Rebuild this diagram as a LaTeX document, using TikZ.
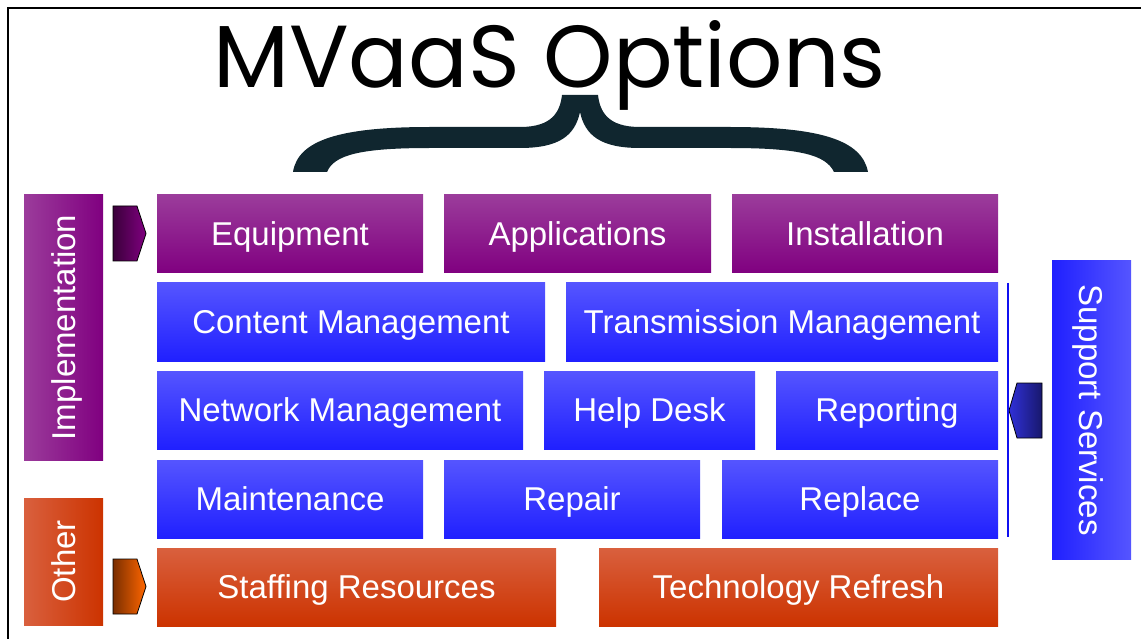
\documentclass[tikz,border=0pt]{standalone}
\usepackage{fontspec}
\usepackage{graphicx}
\setmainfont{Liberation Sans}
\newfontfamily\titlefont{Poppins}
\definecolor{purT}{HTML}{9B3C9B}
\definecolor{purB}{HTML}{800080}
\definecolor{bluT}{HTML}{5555FF}
\definecolor{bluB}{HTML}{2020FF}
\definecolor{orT}{HTML}{D9603E}
\definecolor{orB}{HTML}{CC3300}
\definecolor{braceC}{HTML}{10262F}
\definecolor{arPurL}{HTML}{3A003A}
\definecolor{arOrL}{HTML}{7A2E00}
\definecolor{arOrR}{HTML}{FF6600}
\definecolor{arBluL}{HTML}{3030D8}
\definecolor{arBluR}{HTML}{18186C}
\definecolor{lineBlu}{HTML}{1010F0}
\tikzset{
  lbl/.style={font=\fontsize{33}{36}\selectfont, text=white, inner sep=0pt,
    text height=23.6pt, text depth=0pt, anchor=center, minimum height=78pt},
  purbox/.style={lbl, top color=purT, bottom color=purB},
  blubox/.style={lbl, top color=bluT, bottom color=bluB},
  orbox/.style={lbl, top color=orT, bottom color=orB},
  sidebox/.style={lbl, minimum height=79pt},
  arrowshape/.style={draw=black, line width=0.8pt, line join=miter},
}
\begin{document}
\begin{tikzpicture}[x=1pt,y=-1pt]
\useasboundingbox (0,0) rectangle (1141,639);
% frame
\draw[line width=2.6pt, black] (1145,8) -- (8,8) -- (8,645);
% title
\node[anchor=base west, inner sep=0pt] (title) at (213,88)
  {\resizebox{672pt}{67pt}{\titlefont MVaaS Options}};
% brace
\fill[braceC] (293,172) .. controls (298,140) and (340,127) .. (430,127)
  -- (520,127) .. controls (552,127) and (560,112) .. (562,95)
  -- (598,95) .. controls (600,112) and (608,127) .. (640,127)
  -- (730,127) .. controls (820,127) and (862,140) .. (868,172)
  -- (834,172) .. controls (826,155) and (800,148) .. (730,148)
  -- (640,148) .. controls (600,148) and (585,135) .. (580,112)
  .. controls (575,135) and (560,148) .. (520,148)
  -- (430,148) .. controls (360,148) and (334,155) .. (327,172) -- cycle;
% row 1
\node[purbox, minimum width=266pt] (equip) at (290,234) {Equipment};
\node[purbox, minimum width=267pt] (apps) at (577.5,234) {Applications};
\node[purbox, minimum width=266pt] (inst) at (865,234) {Installation};
% row 2
\node[blubox, minimum width=388pt] (content) at (351,322) {Content Management};
\node[blubox, minimum width=432pt] (trans) at (782,322) {Transmission Management};
% row 3
\node[blubox, minimum width=366pt] (netw) at (340,410) {Network Management};
\node[blubox, minimum width=211pt] (help) at (649.5,410) {Help Desk};
\node[blubox, minimum width=222pt] (report) at (887,410) {Reporting};
% row 4
\node[blubox, minimum width=266pt] (maint) at (290,499) {Maintenance};
\node[blubox, minimum width=256pt] (repair) at (572,499) {Repair};
\node[blubox, minimum width=276pt] (replace) at (860,499) {Replace};
% row 5
\node[orbox, minimum width=399pt] (staff) at (356.5,587) {Staffing Resources};
\node[orbox, minimum width=399pt] (tech) at (798.5,587) {Technology Refresh};
% side labels
\node[sidebox, rotate=90, minimum width=265pt, left color=purT, right color=purB]
  (impl) at (63.5,327.5) {Implementation};
\node[sidebox, rotate=90, minimum width=127pt, left color=orT, right color=orB]
  (other) at (63.5,561.5) {Other};
\node[sidebox, rotate=-90, minimum width=298pt, left color=bluB, right color=bluT]
  (support) at (1091.5,410) {Support Services};
% arrows
\path[arrowshape, left color=arPurL, right color=purB]
  (113,206) -- (137,206) -- (146,233.5) -- (137,261) -- (113,261) -- cycle;
\path[arrowshape, left color=arOrL, right color=arOrR]
  (113,559) -- (137,559) -- (146,586.5) -- (137,614) -- (113,614) -- cycle;
\path[arrowshape, left color=arBluL, right color=arBluR]
  (1042,383) -- (1017,383) -- (1009,410.5) -- (1017,438) -- (1042,438) -- cycle;
% support line
\coordinate (lineTop) at (1008,283);
\coordinate (lineBot) at (1008,537);
\draw[lineBlu, line width=1.4pt] (lineTop) -- (lineBot);
\end{tikzpicture}
\end{document}
